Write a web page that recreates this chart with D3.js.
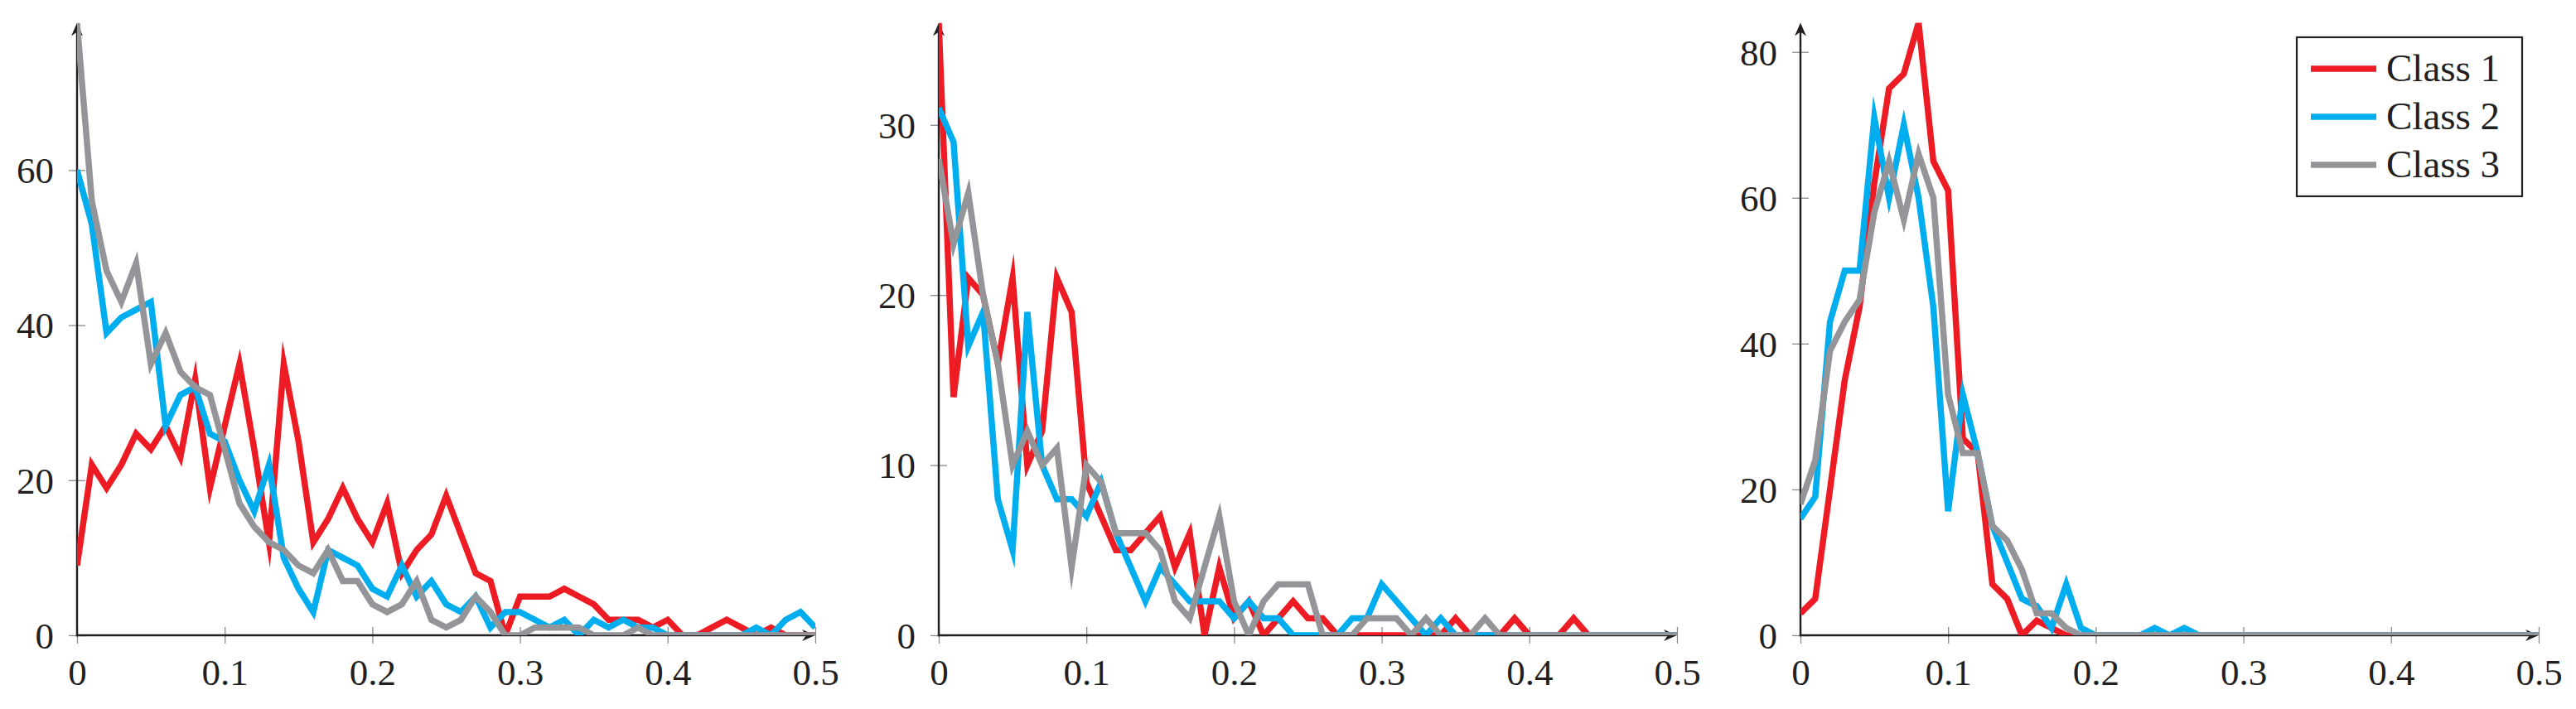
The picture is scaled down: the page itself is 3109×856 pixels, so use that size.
<!DOCTYPE html>
<html>
<head>
<meta charset="utf-8">
<script src="https://cdn.jsdelivr.net/npm/d3@7"></script>
<style>
  body { margin: 0; background: #fff; }
  text { font-family: "Liberation Serif", "DejaVu Serif", serif; fill: #231f20; }
</style>
</head>
<body>
<svg id="chart"></svg>
<script>
const width = 3109;
const height = 856;

// bins on the x axis: 0, 0.01 ... 0.5
const bins = d3.range(51).map(i => i / 100);
const xTicks = [0, 0.1, 0.2, 0.3, 0.4, 0.5];
const classes = ["Class 1", "Class 2", "Class 3"];
const colors = ["#ed1c24", "#00aeef", "#939598"];

// left panel
const p1Class1 = [9,22,19,22,26,24,27,23,33,19, 27,35,24,12,35,25,12,15,19,15, 12,17,8,11,13,18,13,8,7,0, 5,5,5,6,5,4,2,2,2,1, 2,0,0,1,2,1,0,1,0,0, 0];
const p1Class2 = [60,53,39,41,42,43,27,31,32,26, 25,20,16,22,10,6,3,11,10,9, 6,5,9,5,7,4,3,5,1,3, 3,2,1,2,0,2,1,2,1,1, 0,0,0,0,0,0,1,0,2,3, 1];
const p1Class3 = [79,56,47,43,48,35,39,34,32,31, 24,17,14,12,11,9,8,11,7,7, 4,3,4,7,2,1,2,5,3,0, 0,1,1,1,1,0,0,0,1,0, 0,0,0,0,0,0,0,0,0,0, 0];

// middle panel
const p2Class1 = [36,14,21,20,16,21,10,12,21,19, 9,7,5,5,6,7,4,6,0,4, 1,2,0,1,2,1,1,0,0,0, 0,0,0,0,0,1,0,0,0,1, 0,0,0,1,0,0,0,0,0,0, 0];
const p2Class2 = [31,29,17,19,8,5,19,10,8,8, 7,9,6,4,2,4,3,2,2,2, 1,2,1,1,0,0,0,0,1,1, 3,2,1,0,1,0,0,0,0,0, 0,0,0,0,0,0,0,0,0,0, 0];
const p2Class3 = [28,23,26,20,16,10,12,10,11,4, 10,9,6,6,6,5,2,1,4,7, 2,0,2,3,3,3,0,0,0,1, 1,1,0,1,0,0,0,1,0,0, 0,0,0,0,0,0,0,0,0,0, 0];

// right panel
const p3Class1 = [3,5,20,35,45,62,75,77,84,65, 61,27,25,7,5,0,2,1,0,0, 0,0,0,0,0,0,0,0,0,0, 0,0,0,0,0,0,0,0,0,0, 0,0,0,0,0,0,0,0,0,0, 0];
const p3Class2 = [16,19,43,50,50,71,60,70,60,45, 17,33,25,15,10,5,4,1,7,1, 0,0,0,0,1,0,1,0,0,0, 0,0,0,0,0,0,0,0,0,0, 0,0,0,0,0,0,0,0,0,0, 0];
const p3Class3 = [18,24,39,43,46,58,65,57,66,60, 33,25,25,15,13,9,3,3,1,0, 0,0,0,0,0,0,0,0,0,0, 0,0,0,0,0,0,0,0,0,0, 0,0,0,0,0,0,0,0,0,0, 0];

const yMax = [79, 36, 84];
const yTicks = [[0, 20, 40, 60], [0, 10, 20, 30], [0, 20, 40, 60, 80]];

const panels = [
  [p1Class1, p1Class2, p1Class3],
  [p2Class1, p2Class2, p2Class3],
  [p3Class1, p3Class2, p3Class3]
];

const lefts = [93, 1133, 2173];
const plotW = 891;
const plotTop = 27.5;
const plotBottom = 767;
const fontSize = 45;

const svg = d3.select("#chart")
    .attr("width", width)
    .attr("height", height);

svg.append("rect").attr("width", width).attr("height", height).attr("fill", "#fff");

panels.forEach((series, p) => {
    const x = d3.scaleLinear().domain([0, 0.5]).range([lefts[p], lefts[p] + plotW]);
    const y = d3.scaleLinear().domain([0, yMax[p]]).range([plotBottom, plotTop]);
    const g = svg.append("g");

    // x axis ticks + labels
    const xAxis = g.append("g")
        .attr("transform", `translate(0,${plotBottom})`)
        .call(d3.axisBottom(x).tickValues(xTicks).tickSize(10).tickFormat(d => d === 0 ? "0" : d3.format(".1f")(d)));
    xAxis.select(".domain").remove();
    xAxis.selectAll(".tick line").attr("y1", -10).attr("stroke", "#8a8a8a").attr("stroke-width", 1.3);
    xAxis.selectAll(".tick text")
        .attr("y", 60).attr("dy", 0)
        .attr("font-size", fontSize).attr("font-family", null);

    // y axis ticks + labels
    const yAxis = g.append("g")
        .attr("transform", `translate(${lefts[p]},0)`)
        .call(d3.axisLeft(y).tickValues(yTicks[p]).tickSize(10));
    yAxis.select(".domain").remove();
    yAxis.selectAll(".tick line").attr("x1", 10).attr("stroke", "#8a8a8a").attr("stroke-width", 1.3);
    yAxis.selectAll(".tick text")
        .attr("x", -28).attr("dy", "0.34em")
        .attr("font-size", fontSize).attr("font-family", null);

    // axis lines with arrow heads
    const x0 = x(0), x1 = x(0.5), y0 = y(0), y1 = y(yMax[p]);
    g.append("line").attr("x1", x0).attr("x2", x0).attr("y1", y0 + 1.2).attr("y2", y1 + 8)
        .attr("stroke", "#231f20").attr("stroke-width", 2.4);
    g.append("line").attr("x1", x0 - 1.2).attr("x2", x1 - 8).attr("y1", y0).attr("y2", y0)
        .attr("stroke", "#231f20").attr("stroke-width", 2.4);
    g.append("path")
        .attr("d", `M${x0},${y1} L${x0 - 7},${y1 + 16} L${x0},${y1 + 11} L${x0 + 7},${y1 + 16} Z`)
        .attr("fill", "#231f20");
    g.append("path")
        .attr("d", `M${x1},${y0} L${x1 - 16},${y0 - 7} L${x1 - 11},${y0} L${x1 - 16},${y0 + 7} Z`)
        .attr("fill", "#231f20");

    // data lines, clipped to the plot area
    svg.append("clipPath").attr("id", `clip${p}`)
        .append("rect").attr("x", x0).attr("y", y1).attr("width", x1 - x0).attr("height", y0 - y1);

    const line = d3.line()
        .x((d, i) => x(bins[i]))
        .y(d => y(d));

    g.append("g").attr("clip-path", `url(#clip${p})`)
        .selectAll("path")
        .data(series)
        .join("path")
        .attr("d", line)
        .attr("fill", "none")
        .attr("stroke", (d, i) => colors[i])
        .attr("stroke-width", 7.5)
        .attr("stroke-linejoin", "miter")
        .attr("stroke-miterlimit", 10);
});

// legend in the right panel
const legend = svg.append("g").attr("transform", "translate(2772,45)");
legend.append("rect")
    .attr("width", 272).attr("height", 192)
    .attr("fill", "#fff").attr("stroke", "#231f20").attr("stroke-width", 2.2);

const item = legend.selectAll(".item")
    .data(classes)
    .join("g")
    .attr("class", "item")
    .attr("transform", (d, i) => `translate(0,${38 + i * 58})`);

item.append("line")
    .attr("x1", 17).attr("x2", 96)
    .attr("stroke", (d, i) => colors[i])
    .attr("stroke-width", 7.5);

item.append("text")
    .attr("x", 108).attr("y", 15)
    .attr("font-size", 47)
    .text(d => d);
</script>
</body>
</html>
